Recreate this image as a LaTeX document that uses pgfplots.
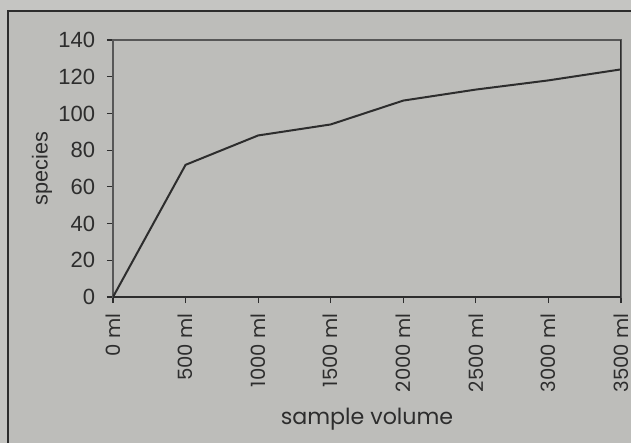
\documentclass[border=0pt]{standalone}
\usepackage{pgfplots}
\pgfplotsset{compat=1.18}
\usepackage{fontspec}
\setmainfont{Liberation Sans}
\newfontfamily\gothic{Poppins}
\definecolor{bgin}{RGB}{189,189,186}
\definecolor{bgout}{RGB}{197,197,194}
\definecolor{ink}{RGB}{45,45,45}
\begin{document}
\begin{tikzpicture}
\fill[bgout] (-67.8pt,-87.6pt) rectangle (310.8pt,178.2pt);
\path[use as bounding box] (-67.8pt,-87.6pt) rectangle (310.8pt,178.2pt);
\fill[bgin] (-63pt,-100pt) rectangle (330pt,171.6pt);
\draw[ink, line width=1.2pt] (-63pt,-100pt) -- (-63pt,171.6pt) -- (330pt,171.6pt);
\begin{axis}[
  at={(0,0)}, anchor=south west,
  scale only axis, width=304.8pt, height=154.2pt,
  xmin=0, xmax=7, ymin=0, ymax=140,
  ytick={0,20,...,140},
  xtick={0,1,2,3,4,5,6,7},
  xticklabels={0 ml,500 ml,1000 ml,1500 ml,2000 ml,2500 ml,3000 ml,3500 ml},
  xtick pos=bottom, ytick pos=left,
  tick align=outside, major tick length=3.6pt,
  tick style={ink, line width=0.7pt},
  axis line style={ink!80, line width=0.7pt},
  /pgf/number format/assume math mode=true,
  yticklabel style={font=\fontsize{13.2}{15}\selectfont, text=ink, anchor=east, inner sep=0pt},
  yticklabel shift=7pt,
  xticklabel style={font=\gothic\fontsize{11.8}{14}\selectfont, text=ink, rotate=90, anchor=east, inner sep=0pt},
  xticklabel shift=6pt,
  xlabel={sample volume},
  xlabel style={font=\gothic\fontsize{13.3}{15}\selectfont, text=ink, at={(axis description cs:0.5,0)}, anchor=base, yshift=-76.2pt},
  ylabel={species},
  ylabel style={font=\fontsize{13}{15}\selectfont, text=ink, at={(axis description cs:-0.1398,0.5)}, anchor=center},
]
\addplot[ink, line width=1.2pt, mark=none] coordinates {
  (0,0) (1,72) (2,88) (3,94) (4,107) (5,113) (6,118) (7,124)
};
\draw[ink, line width=1.2pt] (rel axis cs:0,0) -- (rel axis cs:1,0) -- (rel axis cs:1,1);
\end{axis}
\end{tikzpicture}
\end{document}
